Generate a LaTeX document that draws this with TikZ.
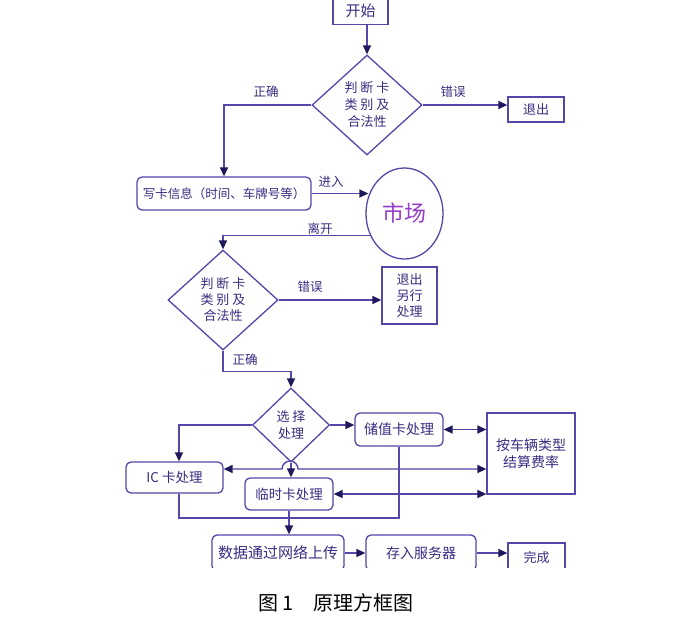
\documentclass[tikz,border=0pt]{standalone}
\usepackage{fontspec}
\setmainfont{Noto Sans CJK SC}
\usetikzlibrary{shapes.geometric,arrows.meta}
\definecolor{linec}{RGB}{85,70,170}
\definecolor{textc}{RGB}{55,45,130}
\definecolor{arrowc}{RGB}{30,25,90}
\definecolor{marketc}{RGB}{150,60,200}
\tikzset{
  box/.style={draw=linec, line width=1.3pt, text=textc, inner sep=0pt, align=center, font=\fontsize{13}{16}\selectfont},
  rbox/.style={box, rounded corners=5pt},
  dia/.style={diamond, draw=linec, line width=1.3pt, text=textc, inner sep=0pt, align=center, font=\fontsize{13}{17}\selectfont},
  conn/.style={draw=linec, line width=1.4pt},
  arr/.style={conn, -{Triangle[length=9pt,width=8pt,color=arrowc]}},
  darr/.style={conn, {Triangle[length=9pt,width=8pt,color=arrowc]}-{Triangle[length=9pt,width=8pt,color=arrowc]}},
  lab/.style={text=textc, inner sep=0pt, font=\fontsize{12.5}{14}\selectfont}
}
\begin{document}
\begin{tikzpicture}[x=1pt,y=-1pt]
\clip (0,0) rectangle (700,625);
\fill[white] (0,0) rectangle (700,625);
% nodes
\node[box, minimum width=55pt, minimum height=28pt, font=\fontsize{15}{18}\selectfont] (start) at (360.5,10.5) {开始};
\node[dia, minimum width=110pt, minimum height=100pt] (d1) at (367,105) {判\hspace{3pt}断\hspace{3pt}卡\\类\hspace{3pt}别\hspace{3pt}及\\合法性};
\node[box, minimum width=56pt, minimum height=25pt] (exit1) at (536,109.5) {退出};
\node[rbox, minimum width=174pt, minimum height=33pt, font=\fontsize{12.5}{15}\selectfont] (write) at (224,193.5) {写卡信息（时间、车牌号等）};
\node[ellipse, draw=linec, line width=1.3pt, minimum width=77pt, minimum height=91pt, inner sep=0pt, text=marketc, font=\fontsize{22}{26}\selectfont] (market) at (404.5,213.5) {市场};
\node[dia, minimum width=110pt, minimum height=100pt, font=\fontsize{13}{16}\selectfont] (d2) at (223,300) {判\hspace{3pt}断\hspace{3pt}卡\\类\hspace{3pt}别\hspace{3pt}及\\合法性};
\node[box, minimum width=55pt, minimum height=57pt] (exit2) at (409.5,295.5) {退出\\另行\\处理};
\node[dia, minimum width=77pt, minimum height=74pt, font=\fontsize{13}{16.5}\selectfont] (d3) at (291,425) {选\hspace{3pt}择\\处理};
\node[rbox, minimum width=88pt, minimum height=33pt, font=\fontsize{14}{17}\selectfont] (stored) at (399,429.5) {储值卡处理};
\node[box, minimum width=88pt, minimum height=81pt, font=\fontsize{14}{17.5}\selectfont] (rate) at (531,453.5) {按车辆类型\\结算费率};
\node[rbox, minimum width=97pt, minimum height=31pt, font=\fontsize{13.5}{16}\selectfont] (ic) at (174.5,477.5) {IC 卡处理};
\node[rbox, minimum width=88pt, minimum height=32pt, font=\fontsize{13.5}{16}\selectfont] (temp) at (289,494) {临时卡处理};
\begin{scope}
\clip (0,0) rectangle (700,567);
\node[rbox, minimum width=132pt, minimum height=36pt, font=\fontsize{15}{18}\selectfont] (data) at (278,553) {数据通过网络上传};
\node[rbox, minimum width=110pt, minimum height=36pt, font=\fontsize{14}{17}\selectfont] (store) at (421,553) {存入服务器};
\node[box, minimum width=57pt, minimum height=30pt] (done) at (536.5,558) {完成};
\end{scope}
\node[anchor=west, inner sep=0pt, text=black, font=\fontsize{20}{24}\selectfont] (cap) at (258,603) {图 1\hspace{20pt}原理方框图};
% labels
\node[lab] (lzq1) at (266,92) {正确};
\node[lab] (lcw1) at (453,92) {错误};
\node[lab] (ljr) at (331,182) {进入};
\node[lab] (llk) at (320,229) {离开};
\node[lab] (lcw2) at (310,287) {错误};
\node[lab] (lzq2) at (245,360) {正确};
% connectors
\draw[arr] (d1.north |- start.south) -- (d1.north);
\draw[arr] (d1.east) -- (d1.east -| exit1.west);
\draw[arr] (d1.west) -| (write.north);
\draw[arr] (write.east) -- ([xshift=3pt]write.east -| market.west);
\draw[arr] (market.213) -| (d2.north);
\draw[arr] (d2.east) -- (d2.east -| exit2.west);
\draw[arr] (d2.south) -- ++(0,21) -| (d3.north);
\draw[arr] (d3.east) -- (d3.east -| stored.west);
\draw[darr] (stored.east) -- (stored.east -| rate.west);
\draw[arr] (d3.west) -| ([xshift=4.5pt]ic.north);
\coordinate (hop) at (290,469);
\draw[darr] (ic.east |- hop) -- ([xshift=-8pt]hop) arc[start angle=180, end angle=0, radius=8pt] -- (rate.west |- hop);
\draw[arr] (d3.south) -- (d3.south |- temp.north);
\draw[darr] (temp.east) -- (temp.east -| rate.west);
\coordinate (merge) at (290,518);
\draw[conn] ([xshift=4.5pt]ic.south) |- (merge) -| (stored.south);
\draw[arr] (temp.south) -- (temp.south |- data.north);
\draw[arr] (data.east) -- (store.west);
\draw[arr] (store.east) -- (store.east -| done.west);
\end{tikzpicture}
\end{document}
